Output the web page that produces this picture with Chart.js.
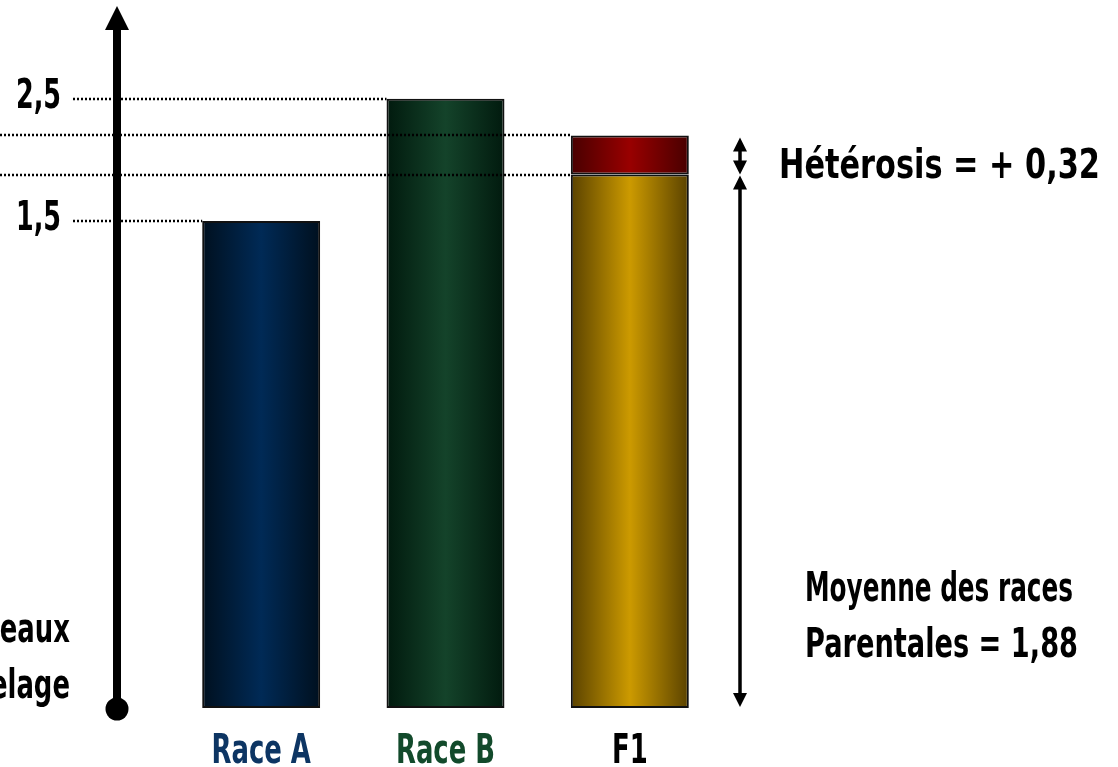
<!DOCTYPE html>
<html>
<head>
<meta charset="utf-8">
<script src="https://cdn.jsdelivr.net/npm/chart.js@4"></script>
<style>
  html, body { margin: 0; padding: 0; background: #fff; }
  canvas { display: block; }
</style>
</head>
<body>
<canvas id="heterosis" width="1118" height="767"></canvas>
<script>
document.addEventListener("DOMContentLoaded", function () {
    // Categories
    const categories = ['Race A', 'Race B', 'F1'];
    const labelColors = ['#0d3563', '#124a2b', '#000000'];

    // Base values: parental breeds, and parental mean for F1
    const baseValues = [1.5, 2.5, 1.88];

    // Heterosis gain added on top of F1 base
    const heterosisValues = [null, null, 0.32];

    // Labelled y ticks
    const yTicks = [1.5, 2.5];

    // Axis floor / ceiling
    const yFloor = -2.48;
    const yCeil = 3.25;

    const font = 'bold 40px "DejaVu Sans Condensed", "DejaVu Sans", sans-serif';

    // bar colours: [edge, middle]
    const baseColors = [
        ['#00101f', '#002a56'],
        ['#011a0e', '#14432a'],
        ['#5a4200', '#cc9a00']
    ];
    const gainColors = ['#480000', '#990000'];

    function gradient(ctx, pair) {
        const chart = ctx.chart;
        const xs = chart.scales.x;
        if (!xs || !chart.chartArea) return pair[1];
        const cx = xs.getPixelForValue(ctx.dataIndex);
        const half = (xs.getPixelForValue(1) - xs.getPixelForValue(0)) * 0.32;
        const g = chart.ctx.createLinearGradient(cx - half, 0, cx + half, 0);
        g.addColorStop(0, pair[0]);
        g.addColorStop(0.5, pair[1]);
        g.addColorStop(1, pair[0]);
        return g;
    }

    const fmt = v => String(v).replace('.', ',');

    // draw text squeezed horizontally to a given width (narrow hand-drawn look)
    function squeezed(c, text, x, y, width, align) {
        c.save();
        const s = width / c.measureText(text).width;
        c.translate(x, y);
        c.scale(s, 1);
        c.textAlign = align;
        c.fillText(text, 0, 0);
        c.restore();
    }

    function arrowHead(c, x, y, dir, w, h) {
        c.beginPath();
        c.moveTo(x, y);
        c.lineTo(x - w / 2, y - dir * h);
        c.lineTo(x + w / 2, y - dir * h);
        c.closePath();
        c.fill();
    }

    const decorations = {
        id: 'decorations',
        afterDatasetsDraw(chart) {
            const c = chart.ctx;
            const xs = chart.scales.x;
            const ys = chart.scales.y;
            const area = chart.chartArea;
            const half = (xs.getPixelForValue(1) - xs.getPixelForValue(0)) * 0.32;
            const f1 = categories.length - 1;
            const f1Left = xs.getPixelForValue(f1) - half;
            const f1Top = baseValues[f1] + heterosisValues[f1];

            c.save();
            // dotted reference lines
            c.strokeStyle = '#000';
            c.lineWidth = 2.5;
            c.setLineDash([2, 2]);
            yTicks.forEach(v => {
                const i = baseValues.indexOf(v);
                const y = Math.round(ys.getPixelForValue(v));
                c.beginPath();
                c.moveTo(73, y);
                c.lineTo(xs.getPixelForValue(i) - half, y);
                c.stroke();
            });
            [f1Top, baseValues[f1]].forEach(v => {
                const y = Math.round(ys.getPixelForValue(v));
                c.beginPath();
                c.moveTo(0, y);
                c.lineTo(f1Left, y);
                c.stroke();
            });
            c.setLineDash([]);

            c.fillStyle = '#000';
            c.font = font;
            c.textBaseline = 'alphabetic';

            // y tick labels
            yTicks.forEach(v => squeezed(c, fmt(v), 61, ys.getPixelForValue(v) + 9, 45, 'right'));

            // vertical axis arrow
            const ax = 117;
            const bottom = area.bottom;
            c.lineWidth = 8;
            c.beginPath();
            c.moveTo(ax, bottom);
            c.lineTo(ax, 28);
            c.stroke();
            arrowHead(c, ax, 6, -1, 24, 24);
            c.beginPath();
            c.arc(ax, bottom + 1, 11.5, 0, Math.PI * 2);
            c.fill();

            // axis title (partly off canvas)
            c.save();
            c.translate(70, 0);
            c.scale(0.72, 1);
            c.textAlign = 'right';
            c.fillText("Nombre d'agneaux", 0, 642);
            c.fillText('par agnelage', 0, 698);
            c.restore();

            // category labels
            categories.forEach((lab, i) => {
                c.fillStyle = labelColors[i];
                const w = c.measureText(lab).width * 0.72;
                squeezed(c, lab, xs.getPixelForValue(i), 763, w, 'center');
            });
            c.fillStyle = '#000';

            // right-hand brackets
            const bx = 740;
            const yTop = ys.getPixelForValue(f1Top);
            const yMid = ys.getPixelForValue(baseValues[f1]);
            c.lineWidth = 3.5;
            c.beginPath();
            c.moveTo(bx, yTop + 10);
            c.lineTo(bx, yMid - 10);
            c.stroke();
            arrowHead(c, bx, yTop + 2, -1, 14, 14);
            arrowHead(c, bx, yMid, 1, 14, 14);
            c.beginPath();
            c.moveTo(bx, yMid + 10);
            c.lineTo(bx, bottom - 10);
            c.stroke();
            arrowHead(c, bx, yMid + 1, -1, 14, 14);
            arrowHead(c, bx, bottom - 1, 1, 14, 14);

            squeezed(c, 'Hétérosis = + ' + fmt(heterosisValues[f1]), 779, 178, 321, 'left');
            squeezed(c, 'Moyenne des races', 805, 601, 268, 'left');
            squeezed(c, 'Parentales = ' + fmt(baseValues[f1]), 805, 657, 273, 'left');
            c.restore();
        }
    };

    new Chart(document.getElementById('heterosis').getContext('2d'), {
        type: 'bar',
        data: {
            labels: categories,
            datasets: [
                {
                    label: 'Base',
                    data: baseValues.map(v => [yFloor, v]),
                    backgroundColor: ctx => gradient(ctx, baseColors[ctx.dataIndex]),
                    borderColor: '#111111',
                    borderWidth: 2,
                    borderSkipped: false
                },
                {
                    label: 'Hétérosis',
                    data: heterosisValues.map((v, i) => v === null ? null : [baseValues[i], baseValues[i] + v]),
                    backgroundColor: ctx => gradient(ctx, gainColors),
                    borderColor: '#111111',
                    borderWidth: 2,
                    borderSkipped: false
                }
            ]
        },
        options: {
            responsive: false,
            animation: false,
            barPercentage: 0.8,
            categoryPercentage: 0.8,
            layout: {
                padding: { left: 169, right: 396, top: 7, bottom: 59 }
            },
            scales: {
                x: {
                    display: false,
                    stacked: true
                },
                y: {
                    display: false,
                    min: yFloor,
                    max: yCeil
                }
            },
            plugins: {
                legend: { display: false },
                tooltip: { enabled: false }
            }
        },
        plugins: [decorations]
    });
});
</script>
</body>
</html>
